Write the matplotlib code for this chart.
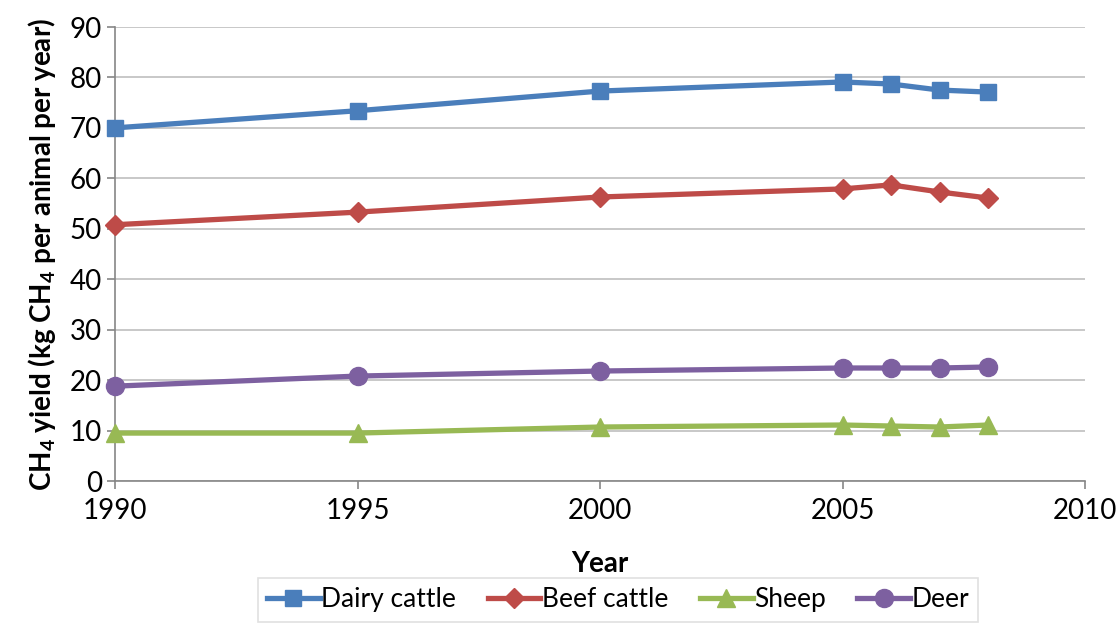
import matplotlib
matplotlib.use("Agg")
import matplotlib.pyplot as plt

years = [1990, 1995, 2000, 2005, 2006, 2007, 2008]
dairy = [70.0, 73.4, 77.3, 79.1, 78.7, 77.5, 77.1]
beef = [50.8, 53.3, 56.3, 57.9, 58.7, 57.3, 56.1]
sheep = [9.5, 9.5, 10.7, 11.1, 10.9, 10.7, 11.1]
deer = [18.8, 20.8, 21.8, 22.4, 22.4, 22.4, 22.6]
series_names = ["Dairy cattle", "Beef cattle", "Sheep", "Deer"]
x_ticks = [1990, 1995, 2000, 2005, 2010]
y_ticks = [0, 10, 20, 30, 40, 50, 60, 70, 80, 90]

plt.rcParams['font.family'] = ['Lato', 'DejaVu Sans']
plt.rcParams['mathtext.fontset'] = 'custom'
plt.rcParams['mathtext.rm'] = 'Lato'
plt.rcParams['mathtext.bf'] = 'Lato:bold'

fig = plt.figure(figsize=(11.16, 6.26), dpi=100)
ax = fig.add_axes([115/1116, 1-481/626, 970/1116, 454/626])

styles = [
    (dairy, '#4A7EBB', 's', 11),
    (beef, '#BE4B48', 'D', 10),
    (sheep, '#98B954', '^', 13),
    (deer, '#7D60A0', 'o', 13),
]
for (vals, c, m, ms), name in zip(styles, series_names):
    ax.plot(years, vals, color=c, marker=m, markersize=ms, linewidth=3.8,
            label=name, clip_on=False, zorder=3)

ax.set_xlim(1990, 2010)
ax.set_ylim(0, 90)
ax.set_xticks(x_ticks)
ax.set_yticks(y_ticks)
ax.grid(axis='y', color='#BFBFBF', linewidth=1.2)
ax.set_axisbelow(True)
for s in ['top', 'right']:
    ax.spines[s].set_visible(False)
for s in ['left', 'bottom']:
    ax.spines[s].set_color('#868686')
    ax.spines[s].set_linewidth(1.2)
ax.tick_params(axis='both', colors='#868686', labelcolor='black', labelsize=20,
               length=6, width=1.2)
ax.tick_params(axis='x', pad=6)
ax.set_xlabel('Year', fontsize=20, fontweight='bold', labelpad=20)
ax.set_ylabel(r'CH$_\mathbf{4}$ yield (kg CH$_\mathbf{4}$ per animal per year)',
              fontsize=20, fontweight='bold', labelpad=8)

leg = fig.legend(loc='lower center', bbox_to_anchor=(618/1116, -0.014), ncol=4,
                 fontsize=19, frameon=True, fancybox=False, handlelength=2.0,
                 handletextpad=0.05, columnspacing=1.2, borderpad=0.35)
leg.get_frame().set_edgecolor('#D9D9D9')
leg.get_frame().set_linewidth(1.2)

fig.savefig('out.png', dpi=100)
